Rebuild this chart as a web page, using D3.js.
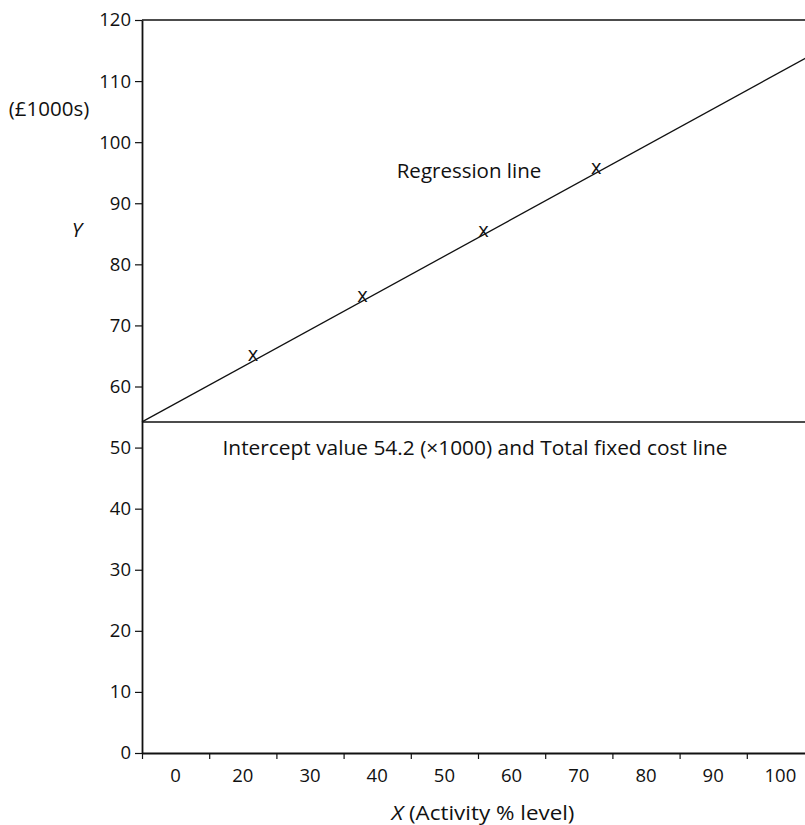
<!DOCTYPE html>
<html>
<head>
<meta charset="utf-8">
<script src="https://cdn.jsdelivr.net/npm/d3@7/dist/d3.min.js"></script>
<style>
  html, body { margin: 0; padding: 0; background: #fff; }
  svg { display: block; }
  text { font-family: "Open Sans", "Noto Sans", sans-serif; fill: #111; }
</style>
</head>
<body>
<svg id="chart" width="805" height="825"></svg>
<script>
// Observed cost at each activity level (x: activity %, y: cost in £1000s)
const pointX = [16.5, 32.8, 50.8, 67.6];
const pointY = [65.0, 74.7, 85.3, 95.6];

// Fitted regression: Y = a + bX
const intercept = 54.2;
const slope = 0.603;
const lineX = [0, 100];

// Axis ticks and labels
const yTicks = [0, 10, 20, 30, 40, 50, 60, 70, 80, 90, 100, 110, 120];
const xTickMarks = [0, 10, 20, 30, 40, 50, 60, 70, 80, 90, 100];
const xTickLabels = ["0", "20", "30", "40", "50", "60", "70", "80", "90", "100"];

const W = 805, H = 825;
const plotLeft = 142, plotRight = 814, plotTop = 20, plotBottom = 753;
const tickFont = 18.5, noteFont = 20.5;

const svg = d3.select("#chart");

const x = d3.scaleLinear().domain([0, 100]).range([plotLeft, plotRight]);
const y = d3.scaleLinear().domain([0, 120]).range([plotBottom, plotTop]);
const xBand = d3.scaleBand().domain(xTickLabels).range([plotLeft, plotRight]).padding(0);

// Top border
svg.append("line")
  .attr("x1", plotLeft).attr("x2", W)
  .attr("y1", y(120)).attr("y2", y(120))
  .attr("stroke", "#111").attr("stroke-width", 1.6);

// Y axis
const yAxis = svg.append("g")
  .attr("transform", `translate(${plotLeft},0)`)
  .call(d3.axisLeft(y).tickValues(yTicks).tickSize(7).tickSizeOuter(0).tickPadding(4));
yAxis.select(".domain").attr("stroke", "#111").attr("stroke-width", 1.8);
yAxis.selectAll(".tick line").attr("stroke", "#111").attr("stroke-width", 1.2);
yAxis.selectAll(".tick text").attr("font-size", tickFont).attr("font-family", "Open Sans").attr("fill", "#111");

// X axis: tick marks at interval edges
const xAxis = svg.append("g")
  .attr("transform", `translate(0,${plotBottom})`)
  .call(d3.axisBottom(x).tickValues(xTickMarks).tickSize(6).tickSizeOuter(0).tickFormat(""));
xAxis.select(".domain").attr("stroke", "#111").attr("stroke-width", 2.2);
xAxis.selectAll(".tick line").attr("stroke", "#111").attr("stroke-width", 1.2);

// X axis labels centred in each interval
const xLabels = svg.append("g")
  .attr("transform", `translate(0,${plotBottom})`)
  .call(d3.axisBottom(xBand).tickSize(0).tickPadding(16));
xLabels.select(".domain").remove();
xLabels.selectAll(".tick text").attr("font-size", tickFont).attr("font-family", "Open Sans").attr("fill", "#111");

// Total fixed cost line at the intercept
svg.append("line")
  .attr("x1", plotLeft).attr("x2", W)
  .attr("y1", y(intercept)).attr("y2", y(intercept))
  .attr("stroke", "#111").attr("stroke-width", 1.4);

// Regression line
svg.append("path")
  .datum(lineX)
  .attr("fill", "none")
  .attr("stroke", "#111")
  .attr("stroke-width", 1.3)
  .attr("d", d3.line().x(d => x(d)).y(d => y(intercept + slope * d)));

// Observations
svg.append("g").selectAll("text")
  .data(pointX.map((v, i) => [v, pointY[i]]))
  .join("text")
  .attr("x", d => x(d[0]))
  .attr("y", d => y(d[1]))
  .attr("dy", "0.27em")
  .attr("text-anchor", "middle")
  .attr("font-size", 20)
  .text("x");

// Annotations
svg.append("text")
  .attr("x", 469).attr("y", 178)
  .attr("text-anchor", "middle")
  .attr("font-size", noteFont)
  .text("Regression line");

svg.append("text")
  .attr("x", 475).attr("y", 455)
  .attr("text-anchor", "middle")
  .attr("font-size", noteFont)
  .attr("textLength", 505)
  .attr("lengthAdjust", "spacingAndGlyphs")
  .text("Intercept value 54.2 (\u00d71000) and Total fixed cost line");

svg.append("text")
  .attr("x", 49).attr("y", 116)
  .attr("text-anchor", "middle")
  .attr("font-size", noteFont)
  .text("(£1000s)");

svg.append("text")
  .attr("x", 77).attr("y", 237)
  .attr("text-anchor", "middle")
  .attr("font-size", noteFont)
  .attr("font-style", "italic")
  .text("Y");

const xTitle = svg.append("text")
  .attr("x", 483).attr("y", 820)
  .attr("text-anchor", "middle")
  .attr("font-size", noteFont)
  .attr("textLength", 183)
  .attr("lengthAdjust", "spacingAndGlyphs");
xTitle.append("tspan").attr("font-style", "italic").text("X");
xTitle.append("tspan").text(" (Activity % level)");
</script>
</body>
</html>
